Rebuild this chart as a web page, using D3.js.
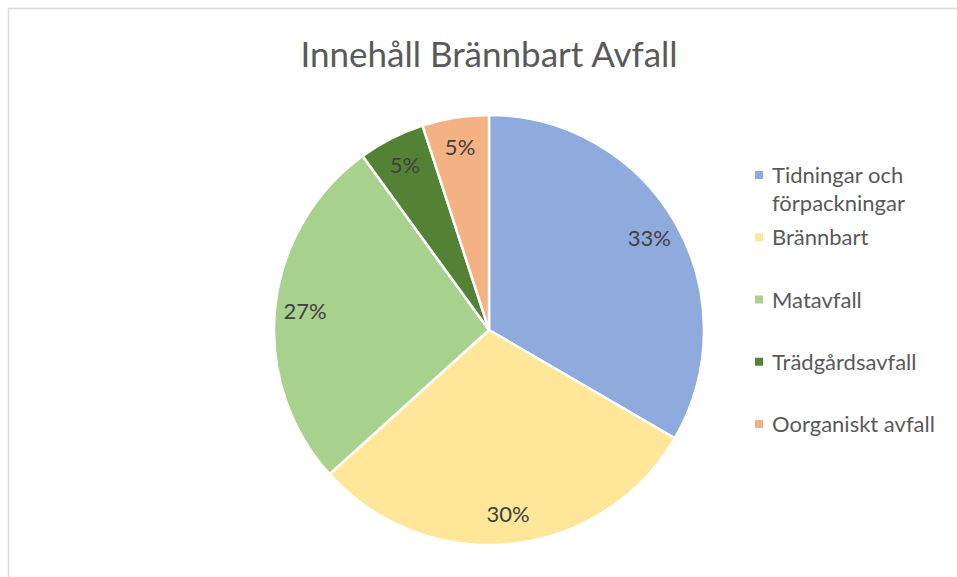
<!DOCTYPE html>
<html>
<head>
<meta charset="utf-8">
<script src="https://cdn.jsdelivr.net/npm/d3@7"></script>
<style>
  body { margin: 0; background: #fff; }
  text { font-family: Lato, "Open Sans", sans-serif; }
</style>
</head>
<body>
<div id="chart"></div>
<script>
const categories = ["Tidningar och förpackningar", "Brännbart", "Matavfall", "Trädgårdsavfall", "Oorganiskt avfall"];
const legendLines = [["Tidningar och", "förpackningar"], ["Brännbart"], ["Matavfall"], ["Trädgårdsavfall"], ["Oorganiskt avfall"]];
const values = [33.4, 29.9, 26.7, 5, 5];
const colors = ["#8faadc", "#ffe699", "#a9d18e", "#548235", "#f4b183"];

const width = 957, height = 577;
const cx = 489, cy = 330, radius = 215;

const svg = d3.select("#chart").append("svg")
    .attr("width", width)
    .attr("height", height);

// chart frame (runs off right and bottom)
svg.append("rect")
    .attr("x", 8.5).attr("y", 8.5)
    .attr("width", 1000).attr("height", 1000)
    .attr("fill", "#fff")
    .attr("stroke", "#d9d9d9")
    .attr("stroke-width", 1.5);

svg.append("text")
    .attr("x", cx).attr("y", 67)
    .attr("text-anchor", "middle")
    .style("font-size", "35px")
    .style("fill", "#595959")
    .text("Innehåll Brännbart Avfall");

const data = categories.map((c, i) => ({ cat: c, value: values[i] }));
const total = d3.sum(values);

const pie = d3.pie().value(d => d.value).sort(null);
const arc = d3.arc().innerRadius(0).outerRadius(radius);
const labelArc = d3.arc().innerRadius(radius * 0.86).outerRadius(radius * 0.86);

const color = d3.scaleOrdinal().domain(categories).range(colors);

const g = svg.append("g").attr("transform", `translate(${cx},${cy})`);

const slices = g.selectAll(".arc")
    .data(pie(data))
    .enter().append("g")
    .attr("class", "arc");

slices.append("path")
    .attr("d", arc)
    .attr("fill", d => color(d.data.cat))
    .attr("stroke", "#fff")
    .attr("stroke-width", 2.5);

slices.append("text")
    .attr("transform", d => `translate(${labelArc.centroid(d)})`)
    .attr("dy", "0.35em")
    .attr("text-anchor", "middle")
    .style("font-size", "22px")
    .style("fill", "#404040")
    .text(d => Math.round(d.data.value / total * 100) + "%");

// legend
const legendY = d3.scalePoint().domain(categories).range([175, 424]);

const legend = svg.append("g").selectAll("g")
    .data(categories)
    .enter().append("g")
    .attr("transform", d => `translate(755,${legendY(d)})`);

legend.append("rect")
    .attr("x", 0).attr("y", -4)
    .attr("width", 8).attr("height", 8)
    .attr("fill", d => color(d));

legend.append("text")
    .attr("x", 17).attr("y", 8)
    .style("font-size", "22px")
    .style("fill", "#595959")
    .selectAll("tspan")
    .data((d, i) => legendLines[i])
    .enter().append("tspan")
    .attr("x", 17)
    .attr("dy", (d, j) => j === 0 ? 0 : 28)
    .text(d => d);
</script>
</body>
</html>
